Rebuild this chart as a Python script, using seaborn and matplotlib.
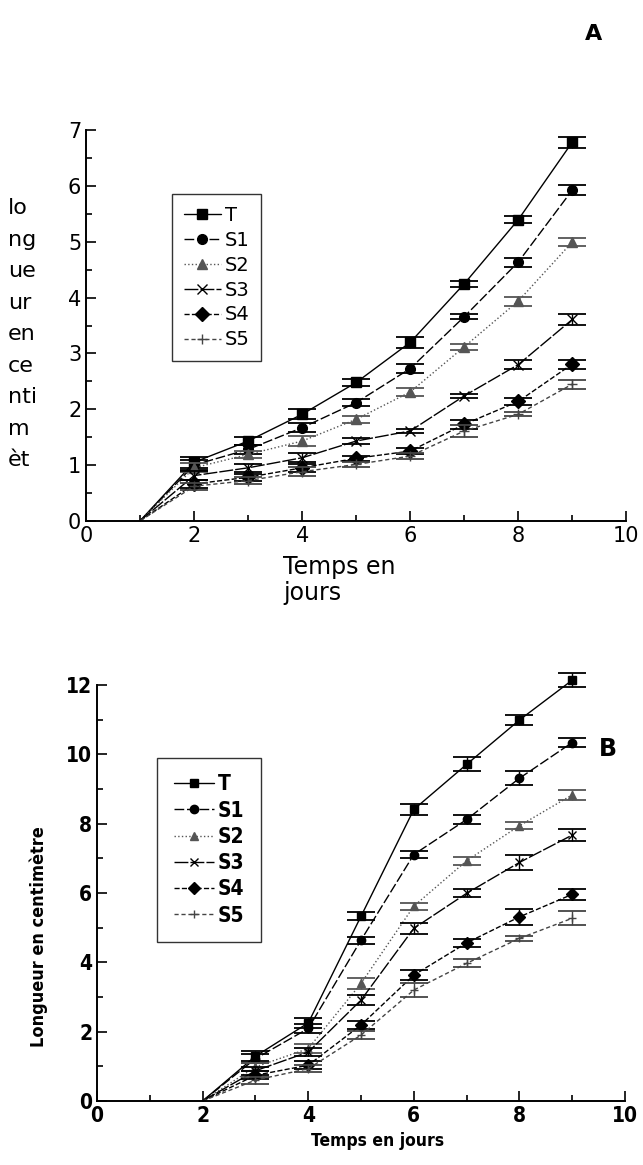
import matplotlib
matplotlib.use('Agg')
import matplotlib.pyplot as plt
import seaborn as sns
from matplotlib.ticker import MultipleLocator

# Panel A: days 1..9 (day 1 = 0)
days_a = [1, 2, 3, 4, 5, 6, 7, 8, 9]
a_T = [0, 1.05, 1.43, 1.91, 2.48, 3.20, 4.25, 5.40, 6.79]
a_S1 = [0, 1.00, 1.28, 1.67, 2.12, 2.73, 3.66, 4.64, 5.93]
a_S2 = [0, 0.95, 1.19, 1.43, 1.82, 2.31, 3.12, 3.94, 5.00]
a_S3 = [0, 0.81, 0.95, 1.13, 1.43, 1.61, 2.24, 2.80, 3.61]
a_S4 = [0, 0.66, 0.78, 0.95, 1.12, 1.25, 1.73, 2.14, 2.81]
a_S5 = [0, 0.62, 0.72, 0.88, 1.01, 1.16, 1.61, 1.91, 2.45]
a_err_T = [0, 0.10, 0.08, 0.09, 0.07, 0.10, 0.05, 0.06, 0.10]
a_err_S1 = [0, 0.09, 0.08, 0.08, 0.06, 0.08, 0.04, 0.08, 0.09]
a_err_S2 = [0, 0.08, 0.07, 0.09, 0.06, 0.08, 0.05, 0.08, 0.08]
a_err_S3 = [0, 0.08, 0.07, 0.08, 0.05, 0.04, 0.04, 0.08, 0.09]
a_err_S4 = [0, 0.07, 0.06, 0.07, 0.05, 0.06, 0.08, 0.06, 0.08]
a_err_S5 = [0, 0.06, 0.06, 0.08, 0.04, 0.06, 0.10, 0.04, 0.08]

# Panel B: days 2..9 (day 2 = 0)
days_b = [2, 3, 4, 5, 6, 7, 8, 9]
b_T = [0, 1.29, 2.25, 5.33, 8.41, 9.71, 10.99, 12.14]
b_S1 = [0, 1.22, 2.09, 4.64, 7.11, 8.12, 9.31, 10.34]
b_S2 = [0, 0.98, 1.51, 3.39, 5.62, 6.93, 7.94, 8.83]
b_S3 = [0, 0.87, 1.41, 2.91, 4.98, 5.99, 6.88, 7.67]
b_S4 = [0, 0.74, 1.03, 2.19, 3.63, 4.56, 5.31, 5.96]
b_S5 = [0, 0.60, 0.93, 1.90, 3.20, 3.97, 4.69, 5.27]
b_err_T = [0, 0.15, 0.15, 0.12, 0.15, 0.20, 0.15, 0.20]
b_err_S1 = [0, 0.12, 0.12, 0.10, 0.10, 0.12, 0.20, 0.12]
b_err_S2 = [0, 0.12, 0.12, 0.15, 0.10, 0.12, 0.10, 0.15]
b_err_S3 = [0, 0.12, 0.12, 0.15, 0.15, 0.12, 0.22, 0.18]
b_err_S4 = [0, 0.12, 0.12, 0.12, 0.15, 0.12, 0.22, 0.15]
b_err_S5 = [0, 0.10, 0.10, 0.12, 0.20, 0.12, 0.08, 0.20]

labels = ['T', 'S1', 'S2', 'S3', 'S4', 'S5']
markers = ['s', 'o', '^', 'x', 'D', '+']
styles = ['-', (0, (7, 2)), ':', (0, (10, 1.5)), '--', (0, (3, 2))]
colors = ['black', 'black', '#555555', 'black', 'black', '#444444']

sns.set_style('ticks')
plt.rcParams['font.family'] = ['DejaVu Sans']
plt.rcParams['text.color'] = 'black'
plt.rcParams['xtick.color'] = 'black'
plt.rcParams['ytick.color'] = 'black'
plt.rcParams['axes.labelcolor'] = 'black'
plt.rcParams['axes.edgecolor'] = 'black'

fig = plt.figure(figsize=(6.43, 11.65), dpi=100)
ax_a = fig.add_axes([0.134, 0.553, 0.840, 0.335])
ax_b = fig.add_axes([0.151, 0.055, 0.821, 0.357])


def draw(ax, days, series, errs, msize, cap):
    for lab, y, e, m, ls, c in zip(labels, series, errs, markers, styles, colors):
        sns.lineplot(x=days, y=y, ax=ax, color=c, linestyle=ls, linewidth=1.0,
                     marker=m, markersize=msize, markevery=list(range(1, len(days))),
                     markeredgecolor=c, markerfacecolor=c, markeredgewidth=1.0,
                     label=lab, clip_on=False)
        ax.errorbar(days[1:], y[1:], yerr=e[1:], fmt='none', ecolor=c,
                    elinewidth=1.0, capsize=cap, capthick=1.3, clip_on=False)


# ---- Panel A ----
draw(ax_a, days_a, [a_T, a_S1, a_S2, a_S3, a_S4, a_S5],
     [a_err_T, a_err_S1, a_err_S2, a_err_S3, a_err_S4, a_err_S5], 7, 10)
ax_a.set_xlim(0, 10)
ax_a.set_ylim(0, 7)
ax_a.xaxis.set_major_locator(MultipleLocator(2))
ax_a.xaxis.set_minor_locator(MultipleLocator(1))
ax_a.yaxis.set_major_locator(MultipleLocator(1))
ax_a.yaxis.set_minor_locator(MultipleLocator(0.5))
ax_a.tick_params(which='both', direction='in', labelsize=15, width=1.2)
ax_a.tick_params(which='major', length=7)
ax_a.tick_params(which='minor', length=4)
ax_a.set_xlabel('')
ax_a.set_ylabel('')
for s in ['top', 'right']:
    ax_a.spines[s].set_visible(False)
for s in ['left', 'bottom']:
    ax_a.spines[s].set_linewidth(1.4)
leg_a = ax_a.legend(loc='upper left', bbox_to_anchor=(0.159, 0.836), fontsize=14,
                    frameon=True, fancybox=False, edgecolor='black',
                    handlelength=1.9, handletextpad=0.2, labelspacing=0.3,
                    borderpad=0.6, borderaxespad=0)
leg_a.get_frame().set_linewidth(1.0)
fig.text(0.012, 0.830, 'lo\nng\nue\nur\nen\nce\nnti\nm\nèt', fontsize=16,
         va='top', ha='left', linespacing=1.72)
fig.text(0.440, 0.524, 'Temps en\njours', fontsize=17, va='top', ha='left',
         linespacing=1.15)
fig.text(0.91, 0.979, 'A', fontsize=16, fontweight='bold', va='top', ha='left')

# ---- Panel B ----
cond = dict(family='DejaVu Sans', stretch='condensed', weight='bold')
draw(ax_b, days_b, [b_T, b_S1, b_S2, b_S3, b_S4, b_S5],
     [b_err_T, b_err_S1, b_err_S2, b_err_S3, b_err_S4, b_err_S5], 6, 10)
ax_b.set_xlim(0, 10)
ax_b.set_ylim(0, 12)
ax_b.xaxis.set_major_locator(MultipleLocator(2))
ax_b.xaxis.set_minor_locator(MultipleLocator(1))
ax_b.yaxis.set_major_locator(MultipleLocator(2))
ax_b.yaxis.set_minor_locator(MultipleLocator(1))
ax_b.tick_params(which='both', direction='in', labelsize=15, width=1.2)
ax_b.tick_params(which='major', length=7)
ax_b.tick_params(which='minor', length=4)
for t in ax_b.get_xticklabels() + ax_b.get_yticklabels():
    t.set_family('DejaVu Sans')
    t.set_stretch('condensed')
    t.set_fontweight('bold')
ax_b.set_xlabel('Temps en jours', fontsize=12.5, **cond)
ax_b.set_ylabel('Longueur en centimètre', fontsize=13, **cond)
ax_b.xaxis.set_label_coords(0.532, -0.075)
ax_b.yaxis.set_label_coords(-0.093, 0.394)
for s in ['top', 'right']:
    ax_b.spines[s].set_visible(False)
for s in ['left', 'bottom']:
    ax_b.spines[s].set_linewidth(1.4)
leg_b = ax_b.legend(loc='upper left', bbox_to_anchor=(0.114, 0.825),
                    prop=dict(size=15, **cond),
                    frameon=True, fancybox=False, edgecolor='black',
                    handlelength=1.9, handletextpad=0.2, labelspacing=0.3,
                    borderpad=0.8, borderaxespad=0)
leg_b.get_frame().set_linewidth(1.0)
fig.text(0.945, 0.357, 'B', fontsize=17, fontweight='bold', va='center', ha='center')

fig.savefig('out.png', dpi=100, facecolor='white')
